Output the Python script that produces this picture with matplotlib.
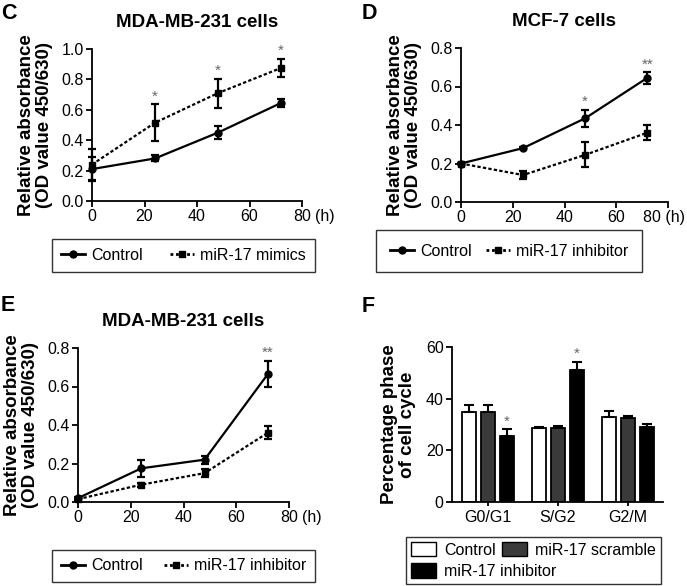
import matplotlib
matplotlib.use("Agg")
import matplotlib.pyplot as plt
from matplotlib.patches import Patch
from matplotlib.lines import Line2D
import numpy as np

plt.rcParams['font.family'] = ['Liberation Sans', 'DejaVu Sans']

hours = [0, 24, 48, 72]

# Panel C
c_ctrl = [0.21, 0.28, 0.45, 0.645]
c_ctrl_err = [0.08, 0.02, 0.045, 0.025]
c_trt = [0.24, 0.515, 0.71, 0.875]
c_trt_err = [0.10, 0.12, 0.095, 0.06]
c_stars = ["", "*", "*", "*"]

# Panel D
d_ctrl = [0.20, 0.28, 0.435, 0.645]
d_ctrl_err = [0.005, 0.005, 0.045, 0.03]
d_trt = [0.20, 0.14, 0.245, 0.36]
d_trt_err = [0.005, 0.02, 0.065, 0.04]
d_stars = ["", "", "*", "**"]

# Panel E
e_ctrl = [0.02, 0.175, 0.22, 0.665]
e_ctrl_err = [0.005, 0.045, 0.02, 0.07]
e_trt = [0.015, 0.09, 0.15, 0.36]
e_trt_err = [0.005, 0.01, 0.02, 0.035]
e_stars = ["", "", "", "**"]

# Panel F
phases = ["G0/G1", "S/G2", "G2/M"]
f_ctrl = [35, 28.5, 32.8]
f_ctrl_err = [2.5, 0.5, 2.5]
f_scr = [35, 28.5, 32.6]
f_scr_err = [2.5, 1.0, 0.8]
f_inh = [25.5, 51.1, 29.0]
f_inh_err = [2.6, 3.1, 1.2]
f_stars = ["*", "*", ""]

x_ticks = [0, 20, 40, 60, 80]
unit = "(h)"

W, H = 687, 586
fig = plt.figure(figsize=(W / 100, H / 100), dpi=100)

TICK_FS = 11.5
LAB_FS = 13.5
LEG_FS = 11.5
STAR_C = '#666666'


def add_ax(l, r, ybot, ytop):
    return fig.add_axes([l / W, 1 - ybot / H, (r - l) / W, (ybot - ytop) / H])


def style(ax):
    for s in ['top', 'right']:
        ax.spines[s].set_visible(False)
    for s in ['left', 'bottom']:
        ax.spines[s].set_linewidth(1.3)
    ax.tick_params(direction='out', width=1.3, length=4, labelsize=TICK_FS, pad=2)


def fig_box(x0, x1, yc, h=30):
    return (x0 / W, 1 - (yc + h / 2) / H, (x1 - x0) / W, h / H)


def line_panel(ax, ctrl, ctrl_err, trt, trt_err, stars, ymax, yticks, trt_label, title,
               legend_box, legend_pad, unit_in_label=False):
    style(ax)
    ax.errorbar(hours, ctrl, yerr=ctrl_err, color='black', lw=1.6, marker='o', ms=5,
                capsize=3, elinewidth=1.6, capthick=1.6, clip_on=False, zorder=3)
    ax.errorbar(hours, trt, yerr=trt_err, color='black', lw=1.6, ls=(0, (1.5, 1.0)), marker='s', ms=5,
                capsize=3, elinewidth=1.6, capthick=1.6, clip_on=False, zorder=3)
    for x, c, ce, t, te, s in zip(hours, ctrl, ctrl_err, trt, trt_err, stars):
        if s:
            top = max(c + ce, t + te)
            ax.text(x, top + ymax * 0.005, s, ha='center', va='bottom', color=STAR_C, fontsize=11)
    ax.set_xlim(0, 80)
    ax.set_ylim(0, ymax)
    ax.set_xticks(x_ticks)
    if unit_in_label:
        ax.set_xticklabels([str(t) for t in x_ticks[:-1]] + [""])
        ax.annotate(f"{x_ticks[-1]} {unit}", xy=(x_ticks[-1], 0), xycoords='data', xytext=(12.2, -6),
                    textcoords='offset points', ha='right', va='top', fontsize=TICK_FS,
                    annotation_clip=False)
    else:
        ax.annotate(unit, xy=(x_ticks[-1], 0), xycoords='data', xytext=(9.5, -6),
                    textcoords='offset points', ha='left', va='top', fontsize=TICK_FS,
                    annotation_clip=False)
    ax.set_yticks(yticks)
    ax.set_yticklabels([f"{v:.1f}" for v in yticks])
    ax.set_ylabel("Relative absorbance\n(OD value 450/630)", fontsize=LAB_FS, fontweight='bold',
                  linespacing=1.1, labelpad=6)
    ax.set_title(title, fontsize=13.5, fontweight='bold', pad=16)
    handles = [
        Line2D([], [], color='black', lw=2, marker='o', ms=5),
        Line2D([], [], color='black', lw=2, ls=(0, (1.0, 1.0)), marker='s', ms=5),
    ]
    fig.legend(handles, ["Control", trt_label], loc='center', bbox_to_anchor=legend_box,
               mode='expand', ncol=2, frameon=True, fancybox=False, edgecolor='black',
               fontsize=LEG_FS, handlelength=1.5, borderpad=legend_pad, handletextpad=0.4,
               borderaxespad=0).get_frame().set_linewidth(1.0)
    return ax


axC = add_ax(92, 302, 201, 49)
line_panel(axC, c_ctrl, c_ctrl_err, c_trt, c_trt_err, c_stars, 1.0, [0.0, 0.2, 0.4, 0.6, 0.8, 1.0],
           "miR-17 mimics", "MDA-MB-231 cells", fig_box(52, 315, 255.5), 0.55)
axD = add_ax(461, 668, 202, 48)
line_panel(axD, d_ctrl, d_ctrl_err, d_trt, d_trt_err, d_stars, 0.8, [0.0, 0.2, 0.4, 0.6, 0.8],
           "miR-17 inhibitor", "MCF-7 cells", fig_box(376, 642, 251), 0.85, unit_in_label=True)
axE = add_ax(78, 289, 502, 348)
line_panel(axE, e_ctrl, e_ctrl_err, e_trt, e_trt_err, e_stars, 0.8, [0.0, 0.2, 0.4, 0.6, 0.8],
           "miR-17 inhibitor", "MDA-MB-231 cells", fig_box(52, 315, 566), 0.55)

# Panel F
axF = add_ax(452, 663, 502, 347)
style(axF)
x = np.arange(len(phases))
bw = 0.19
step = 0.27
cols = ['white', '#3a3a3a', 'black']
series = [(f_ctrl, f_ctrl_err), (f_scr, f_scr_err), (f_inh, f_inh_err)]
labels = ["Control", "miR-17 scramble", "miR-17 inhibitor"]
for i, ((vals, errs), col) in enumerate(zip(series, cols)):
    pos = x + (i - 1) * step
    axF.bar(pos, vals, bw, color=col, edgecolor='black', lw=1.3, zorder=2)
    axF.errorbar(pos, vals, yerr=[np.zeros(len(errs)), errs], fmt='none', ecolor='black',
                 elinewidth=1.5, capsize=3.5, capthick=1.5, zorder=3)
for xi, v, e, s in zip(x, f_inh, f_inh_err, f_stars):
    if s:
        axF.text(xi + step, v + e + 0.3, s, ha='center', va='bottom', color=STAR_C, fontsize=11)
axF.set_xlim(-0.514, 2.5)
axF.set_ylim(0, 60)
axF.set_yticks([0, 20, 40, 60])
axF.set_xticks(x)
axF.set_xticklabels(phases)
axF.tick_params(axis='x', length=3, pad=3)
axF.set_ylabel("Percentage phase\nof cell cycle", fontsize=LAB_FS, fontweight='bold', linespacing=1.1,
               labelpad=7)
fhandles = [Patch(facecolor=c, edgecolor='black', lw=1) for c in cols]
lf = fig.legend([fhandles[0], fhandles[2], fhandles[1]], [labels[0], labels[2], labels[1]], loc='center',
                bbox_to_anchor=fig_box(406, 661, 560.5), mode='expand', ncol=2, frameon=True,
                fancybox=False, edgecolor='black', fontsize=LEG_FS, handlelength=1.6, handleheight=1.0,
                borderpad=0.3, handletextpad=0.5, labelspacing=0.35, borderaxespad=0)
lf.get_frame().set_linewidth(1.0)

# Panel letters
for lx, ly, letter in [(1, 3, "C"), (362, 3, "D"), (1, 295, "E"), (362, 296, "F")]:
    fig.text(lx / W, 1 - ly / H, letter, ha='left', va='top', fontsize=15.5, fontweight='bold')

fig.savefig("out.png", dpi=100)
